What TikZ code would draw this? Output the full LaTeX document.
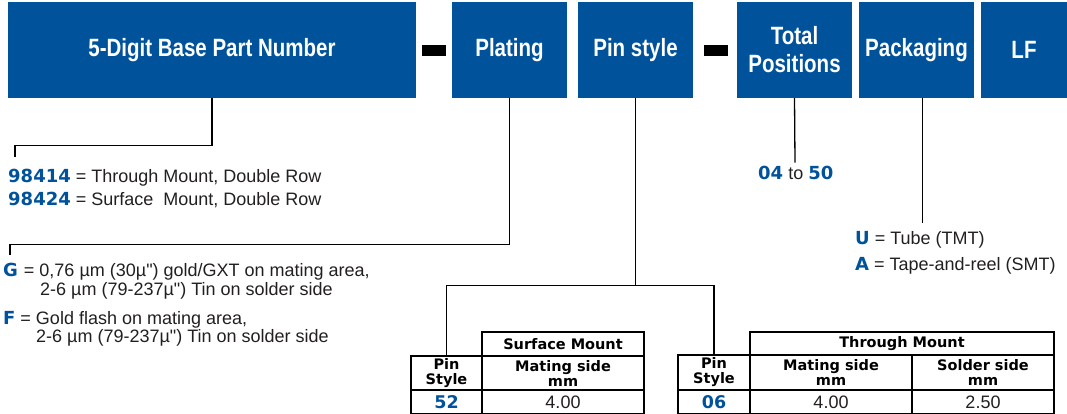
\documentclass[tikz,border=0pt]{standalone}
\usepackage{fontspec}
\usepackage{xcolor}
\usepackage{tikz}
\setmainfont[Ligatures=TeXOff]{Liberation Sans}
\newfontfamily\boxfont[FakeStretch=0.82]{Liberation Sans}
\newfontfamily\codefont{DejaVu Sans}
\definecolor{brandblue}{HTML}{00539B}
\definecolor{inkgray}{HTML}{231F20}
\newcommand{\pncode}[1]{{\codefont\bfseries\color{brandblue}#1}}

\begin{document}
\begin{tikzpicture}[
    x=1pt, y=-1pt,
    partbox/.style = {
      rectangle, fill=brandblue, text=white,
      minimum height=96, inner sep=0, align=center,
      font=\boxfont\bfseries\fontsize{25}{28}\selectfont
    },
    dashbar/.style = {
      rectangle, fill=black, inner sep=0,
      minimum width=24, minimum height=10.7
    },
    tcell/.style = {
      rectangle, draw=black, line width=1.3pt, inner sep=0, align=center,
      font=\codefont\bfseries\fontsize{14.5}{15}\selectfont
    },
    numcell/.style = {tcell, font=\fontsize{17.5}{20}\selectfont},
    valcell/.style = {tcell, text=inkgray, font=\fontsize{18}{20}\selectfont},
    txt/.style  = {anchor=base west, inner sep=0, text=inkgray,
                   font=\fontsize{18}{21}\selectfont},
    conn/.style = {line width=1.3pt, color=black}
  ]
  \useasboundingbox (0,0) rectangle (1067,414);

  % Part number fields — y=50
  \node[partbox, minimum width=408]   at (212,   50) (base)     {5-Digit Base Part Number};
  \node[dashbar]                      at (434,   50.3) (dashA)  {};
  \node[partbox, minimum width=114.5] at (509.5, 50) (plating)  {Plating};
  \node[partbox, minimum width=114.7] at (635.5, 50) (pinstyle) {Pin style};
  \node[dashbar]                      at (716,   50.3) (dashB)  {};
  \node[partbox, minimum width=115]   at (794.5, 50) (total)    {Total\\Positions};
  \node[partbox, minimum width=115]   at (916.5, 50) (pack)     {Packaging};
  \node[partbox, minimum width=86]    at (1024,  50) (lf)       {LF};

  % Option texts
  \node[txt] at (8,   182.7) (codeA)   {\pncode{98414} = Through Mount, Double Row};
  \node[txt] at (8,   205)   (codeB)   {\pncode{98424} = Surface\ \ Mount, Double Row};
  \node[txt] at (3,   276)   (plateG)  {\pncode{G}\hspace{1pt} = 0,76 µm (30µ") gold/GXT on mating area,};
  \node[txt] at (40,  295)   (plateGb) {2-6 µm (79-237µ") Tin on solder side};
  \node[txt] at (3,   324)   (plateF)  {\pncode{F} = Gold flash on mating area,};
  \node[txt] at (36,  342.7) (plateFb) {2-6 µm (79-237µ") Tin on solder side};
  \node[txt] at (758, 179)   (range)   {\pncode{04} to \pncode{50}};
  \node[txt] at (855, 244)   (tube)    {\pncode{U} = Tube (TMT)};
  \node[txt] at (855, 270)   (reel)    {\pncode{A} = Tape-and-reel (SMT)};

  % Surface mount table — x=411..644
  \node[tcell, minimum width=162, minimum height=24] at (563,   344) (smhead) {Surface Mount};
  \node[tcell, minimum width=71,  minimum height=34] at (446.5, 373) (pinA)   {Pin\\Style};
  \node[tcell, minimum width=162, minimum height=34] at (563,   373) (matA)   {Mating side\\mm};
  \node[numcell, minimum width=71,  minimum height=24] at (446.5, 402) (numA) {\pncode{52}};
  \node[valcell, minimum width=162, minimum height=24] at (563, 402) (valA)   {4.00};

  % Through mount table — x=678..1054
  \node[tcell, minimum width=304, minimum height=23] at (902, 343.5) (thhead) {Through Mount};
  \node[tcell, minimum width=72,  minimum height=35] at (714, 372.5) (pinB)   {Pin\\Style};
  \node[tcell, minimum width=162, minimum height=35] at (831, 372.5) (matB)   {Mating side\\mm};
  \node[tcell, minimum width=142, minimum height=35] at (983, 372.5) (solB)   {Solder side\\mm};
  \node[numcell, minimum width=72,  minimum height=24] at (714, 402) (numB)   {\pncode{06}};
  \node[valcell, minimum width=162, minimum height=24] at (831, 402) (valB)   {4.00};
  \node[valcell, minimum width=142, minimum height=24] at (983, 402) (valC)   {2.50};

  % Free ends
  \coordinate (baseend)  at (15,  157);
  \coordinate (plateend) at (10,  255);
  \coordinate (rangeend) at (795, 162.7);
  \coordinate (packend)  at (922.7, 222.7);

  % Connectors
  \draw[conn] (base.south)     -- ++(0,47)  -| (baseend);
  \draw[conn] (plating.south)  -- ++(0,146) -| (plateend);
  \draw[conn] (pinstyle.south) -- ++(0,187.5) coordinate (pinjoin);
  \draw[conn] (pinA.north) |- (pinjoin) -| (pinB.north);
  \draw[conn] (total.south)    -- (rangeend);
  \draw[conn] (pack.south -| packend) -- (packend);
\end{tikzpicture}
\end{document}
